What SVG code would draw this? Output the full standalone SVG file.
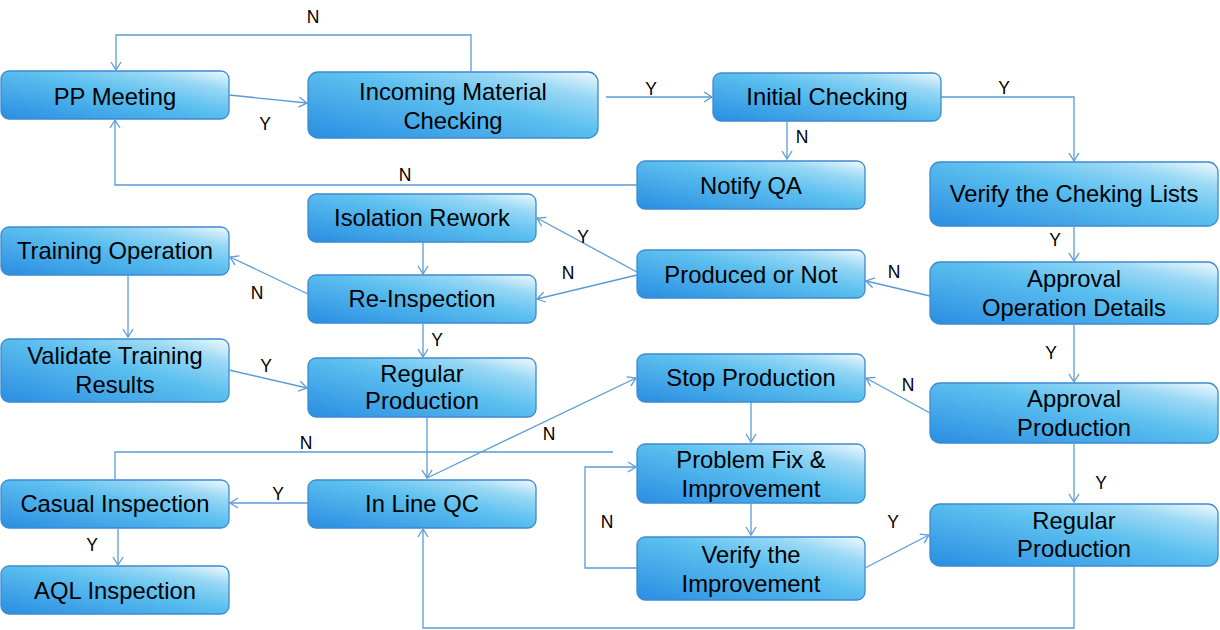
<svg xmlns="http://www.w3.org/2000/svg" width="1220" height="630" viewBox="0 0 1220 630">
<defs>
<linearGradient id="g" x1="0" y1="1" x2="1" y2="0">
<stop offset="0" stop-color="#2a8de2"/>
<stop offset="0.55" stop-color="#5cc0ef"/>
<stop offset="0.8" stop-color="#9ad8f5"/>
<stop offset="1" stop-color="#f2fafe"/>
</linearGradient>
<marker id="a" markerWidth="12" markerHeight="12" refX="10" refY="6" orient="auto" markerUnits="userSpaceOnUse">
<path d="M2,1 L10,6 L2,11" fill="none" stroke="#5b9bd5" stroke-width="1.3"/>
</marker>
</defs>
<style>
.n rect{fill:url(#g);stroke:#3d8bd0;stroke-width:1.3}
.n text{font-family:"Liberation Sans",Arial,sans-serif;font-size:23.8px;fill:#000;text-anchor:middle}
.c path{fill:none;stroke:#5b9bd5;stroke-width:1.3}
.c .ar{marker-end:url(#a)}
.l text{font-family:"Liberation Sans",Arial,sans-serif;font-size:17.5px;fill:#000;text-anchor:middle}
</style>
<rect width="1220" height="630" fill="#fff"/>
<g id="pp-meeting" class="n"><rect x="1" y="71" width="228" height="48" rx="8"/><text x="115" y="105">PP Meeting</text></g>
<g id="incoming" class="n"><rect x="308" y="72" width="290" height="66" rx="10"/><text x="453" y="100">Incoming Material</text><text x="453" y="129">Checking</text></g>
<g id="initial-checking" class="n"><rect x="713" y="73" width="228" height="48" rx="8"/><text x="827" y="105">Initial Checking</text></g>
<g id="notify-qa" class="n"><rect x="637" y="161" width="228" height="48" rx="8"/><text x="751" y="194">Notify QA</text></g>
<g id="verify-lists" class="n"><rect x="930" y="162" width="288" height="64" rx="10"/><text x="1074" y="202">Verify the Cheking Lists</text></g>
<g id="isolation-rework" class="n"><rect x="308" y="194" width="228" height="48" rx="8"/><text x="422" y="226">Isolation Rework</text></g>
<g id="training-operation" class="n"><rect x="1" y="227" width="228" height="48" rx="8"/><text x="115" y="259">Training Operation</text></g>
<g id="produced-or-not" class="n"><rect x="637" y="250" width="228" height="48" rx="8"/><text x="751" y="283">Produced or Not</text></g>
<g id="re-inspection" class="n"><rect x="308" y="275" width="228" height="48" rx="8"/><text x="422" y="307">Re-Inspection</text></g>
<g id="approval-operation" class="n"><rect x="930" y="262" width="288" height="62" rx="10"/><text x="1074" y="287">Approval</text><text x="1074" y="316">Operation Details</text></g>
<g id="validate-training" class="n"><rect x="1" y="339" width="228" height="63" rx="8"/><text x="115" y="364">Validate Training</text><text x="115" y="393">Results</text></g>
<g id="regular-production-1" class="n"><rect x="308" y="358" width="228" height="59" rx="8"/><text x="422" y="382">Regular</text><text x="422" y="409">Production</text></g>
<g id="stop-production" class="n"><rect x="637" y="354" width="228" height="48" rx="8"/><text x="751" y="386">Stop Production</text></g>
<g id="approval-production" class="n"><rect x="930" y="383" width="288" height="60" rx="10"/><text x="1074" y="407">Approval</text><text x="1074" y="436">Production</text></g>
<g id="problem-fix" class="n"><rect x="637" y="444" width="228" height="59" rx="8"/><text x="751" y="468">Problem Fix &amp;</text><text x="751" y="497">Improvement</text></g>
<g id="casual-inspection" class="n"><rect x="1" y="480" width="228" height="48" rx="8"/><text x="115" y="512">Casual Inspection</text></g>
<g id="in-line-qc" class="n"><rect x="308" y="480" width="228" height="48" rx="8"/><text x="422" y="512">In Line QC</text></g>
<g id="verify-improvement" class="n"><rect x="637" y="537" width="228" height="63" rx="8"/><text x="751" y="563">Verify the</text><text x="751" y="592">Improvement</text></g>
<g id="regular-production-2" class="n"><rect x="930" y="504" width="288" height="62" rx="10"/><text x="1074" y="529">Regular</text><text x="1074" y="557">Production</text></g>
<g id="aql-inspection" class="n"><rect x="1" y="566" width="228" height="48" rx="8"/><text x="115" y="599">AQL Inspection</text></g>
<g class="c">
<path class="ar" d="M471,72 V35 H116 V70"/>
<path class="ar" d="M229,95 L307,103"/>
<path class="ar" d="M606,97 H712"/>
<path class="ar" d="M941,97 H1074 V161"/>
<path class="ar" d="M787,121 V159"/>
<path class="ar" d="M637,185 H115 V120"/>
<path class="ar" d="M1074,213 V261"/>
<path class="ar" d="M930,296 L866,281"/>
<path class="ar" d="M637,272 L537,218"/>
<path class="ar" d="M637,275 L537,299"/>
<path class="ar" d="M423,242 V274"/>
<path class="ar" d="M308,294 L230,257"/>
<path class="ar" d="M128,275 V337"/>
<path class="ar" d="M423,323 V357"/>
<path class="ar" d="M229,370 L307,388"/>
<path class="ar" d="M427,417 V478"/>
<path class="ar" d="M427,478 L636,378"/>
<path class="ar" d="M751,402 V442"/>
<path class="ar" d="M930,413 L866,378"/>
<path class="ar" d="M1074,324 V382"/>
<path class="ar" d="M1074,435 V502"/>
<path class="ar" d="M751,503 V535"/>
<path class="ar" d="M637,568 H585 V467 H636"/>
<path class="ar" d="M865,568 L929,535"/>
<path class="ar" d="M1074,566 V628 H423 V529"/>
<path d="M613,452 H115 V480"/>
<path class="ar" d="M308,503 H230"/>
<path class="ar" d="M118,528 V565"/>
</g>
<g class="l">
<text x="313" y="23">N</text>
<text x="265" y="130">Y</text>
<text x="651" y="95">Y</text>
<text x="1004" y="94">Y</text>
<text x="802" y="143">N</text>
<text x="405" y="181">N</text>
<text x="1055" y="246">Y</text>
<text x="894" y="278">N</text>
<text x="583" y="243">Y</text>
<text x="568" y="279">N</text>
<text x="257" y="299">N</text>
<text x="437" y="346">Y</text>
<text x="266" y="372">Y</text>
<text x="549" y="440">N</text>
<text x="908" y="391">N</text>
<text x="1051" y="359">Y</text>
<text x="1101" y="489">Y</text>
<text x="607" y="528">N</text>
<text x="893" y="528">Y</text>
<text x="306" y="449">N</text>
<text x="278" y="500">Y</text>
<text x="92" y="551">Y</text>
</g>
</svg>
